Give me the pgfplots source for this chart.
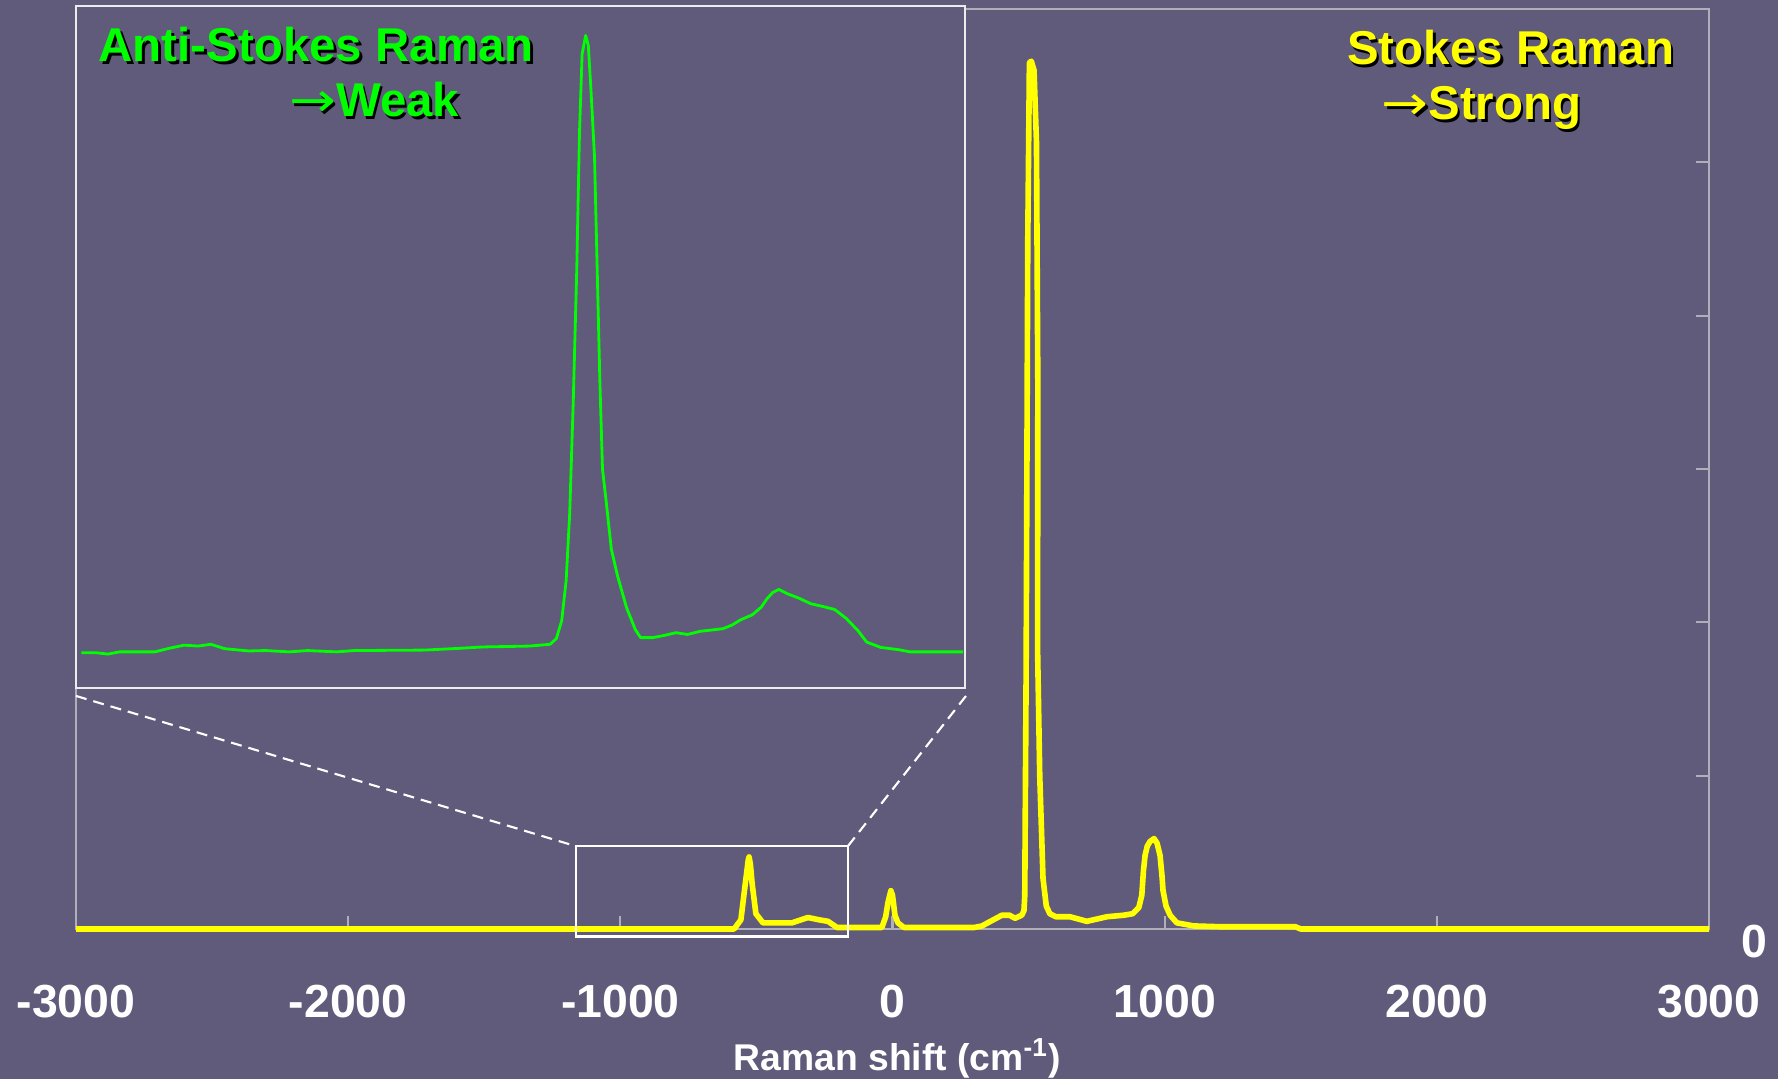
\documentclass[border=0pt]{standalone}
\usepackage{pgfplots}
\pgfplotsset{compat=1.18}
\usepackage{fontspec}
\setmainfont{Liberation Sans}
\newfontfamily\arrowfont{DejaVu Sans}
\definecolor{bg}{RGB}{97,91,123}
\definecolor{axgray}{RGB}{175,175,185}
\definecolor{brightgreen}{RGB}{0,255,0}
\definecolor{brightyellow}{RGB}{255,255,0}
\newcommand{\shadowtext}[4]{%
  \node[anchor=#2, inner sep=0pt, text=black, xshift=0.25mm, yshift=-0.25mm] at #1 {#4};
  \node[anchor=#2, inner sep=0pt, text=#3] at #1 {#4};}
\newcommand{\longarrow}{\scalebox{1.18}[1]{\arrowfont →}}

\pgfplotstableread{
x y
-3000 0
-582 0
-557 0.06
-542 0.28
-530 0.45
-527 0.47
-522 0.42
-516 0.30
-502 0.10
-476 0.04
-370 0.04
-336 0.06
-311 0.075
-270 0.06
-237 0.05
-204 0.01
-39 0.01
-25 0.08
-17 0.17
-6 0.25
0 0.22
9 0.09
20 0.04
42 0.01
300 0.01
329 0.02
360 0.05
402 0.09
430 0.09
450 0.07
475 0.09
483 0.12
486 0.22
491 1.68
497 4.49
503 5.65
510 5.66
520 5.60
529 5.13
534 3.55
533 1.83
541 1.00
553 0.33
565 0.15
578 0.10
600 0.08
652 0.08
714 0.05
788 0.08
850 0.09
883 0.10
905 0.14
916 0.22
922 0.38
928 0.48
936 0.54
946 0.57
961 0.59
972 0.56
983 0.48
990 0.35
994 0.25
1005 0.15
1020 0.09
1045 0.04
1107 0.02
1200 0.015
1480 0.015
1500 0
3000 0
}\stokes

\pgfplotstableread{
x y
-1157 5.17
-1140 5.17
-1127 4.97
-1114 5.30
-1074 5.30
-1058 5.82
-1041 6.28
-1025 6.15
-1011 6.41
-995 5.76
-968 5.43
-949 5.49
-922 5.30
-902 5.49
-869 5.30
-849 5.49
-770 5.56
-730 5.82
-704 6.02
-678 6.08
-651 6.15
-628 6.41
-621 7.26
-615 9.88
-610 15.76
-606 25.57
-602 41.92
-598 61.54
-595 81.16
-592 92.94
-588 95.68
-585 94.24
-582 87.70
-578 77.89
-575 61.54
-572 45.19
-569 32.11
-565 27.53
-559 20.34
-552 16.42
-542 11.84
-532 8.57
-526 7.39
-512 7.39
-499 7.72
-486 8.11
-473 7.85
-459 8.31
-446 8.50
-433 8.70
-423 9.22
-413 10.01
-400 10.73
-390 11.84
-383 13.15
-377 14.00
-370 14.45
-360 13.80
-347 13.15
-334 12.36
-321 11.97
-307 11.51
-294 10.20
-281 8.44
-271 6.74
-255 5.95
-235 5.62
-222 5.30
-189 5.30
-162 5.30
}\antistokes

\begin{document}
\begin{tikzpicture}
\fill[bg] (0,0) rectangle (177.8mm,107.9mm);
\begin{axis}[
  at={(7.6mm,15.0mm)}, anchor=south west,
  width=163.3mm, height=92.0mm, scale only axis,
  xmin=-3000, xmax=3000, ymin=0, ymax=6,
  clip=false,
  axis line style={axgray, line width=0.7pt},
  xtick={-3000,-2000,-1000,0,1000,2000,3000},
  xticklabels={-3000,-2000,-1000,0,1000,2000,3000},
  ytick={0,1,2,3,4,5,6},
  yticklabels={0,{},{},{},{},{},{}},
  xtick pos=bottom, ytick pos=right, yticklabel pos=right,
  tick align=inside,
  major tick length=1.3mm,
  tick style={axgray, line width=0.6pt},
  ticklabel style={font=\bfseries\fontsize{13.2}{15}\selectfont, text=white},
  xticklabel style={anchor=base, yshift=-8.8mm},
  yticklabel style={anchor=base, xshift=4.5mm, yshift=-2.8mm},
  xlabel={Raman shift (cm\textsuperscript{-1})},
  xlabel style={at={(axis description cs:0.5,0)}, anchor=base, yshift=-14.1mm, xshift=0.5mm,
    font=\bfseries\fontsize{10.6}{12}\selectfont, text=white},
]
\addplot[brightyellow, line width=1.6pt, line join=round] table[x=x,y=y] {\stokes};
\draw[white, line width=0.7pt] (axis cs:-1163,-0.05) rectangle (axis cs:-164,0.54);
\draw[white, line width=0.6pt, dash pattern=on 1.1mm off 0.7mm] (axis cs:-3000,1.52) -- (axis cs:-1163,0.54);
\draw[white, line width=0.6pt, dash pattern=on 1.1mm off 0.7mm] (axis cs:270,1.52) -- (axis cs:-164,0.54);
\end{axis}

\begin{axis}[
  at={(7.6mm,39.1mm)}, anchor=south west,
  width=88.9mm, height=68.2mm, scale only axis,
  xmin=-1163, xmax=-160, ymin=0, ymax=100,
  axis background/.style={fill=bg},
  axis line style={white!85!gray, line width=0.5pt},
  xtick=\empty, ytick=\empty,
]
\addplot[brightgreen, line width=0.8pt, line join=round] table[x=x,y=y] {\antistokes};
\end{axis}

\shadowtext{(9.8mm,101.73mm)}{base west}{brightgreen}{\bfseries\fontsize{13.5}{15}\selectfont Anti-Stokes Raman}
\shadowtext{(46.0mm,96.23mm)}{base east}{brightgreen}{\fontsize{13.5}{15}\selectfont\longarrow\bfseries Weak}
\shadowtext{(167.5mm,101.4mm)}{base east}{brightyellow}{\bfseries\fontsize{13.5}{15}\selectfont Stokes Raman}
\shadowtext{(158.2mm,95.9mm)}{base east}{brightyellow}{\fontsize{13.5}{15}\selectfont\longarrow\bfseries Strong}

\pgfresetboundingbox
\path (0,0) rectangle (177.8mm,107.9mm);
\end{tikzpicture}
\end{document}
